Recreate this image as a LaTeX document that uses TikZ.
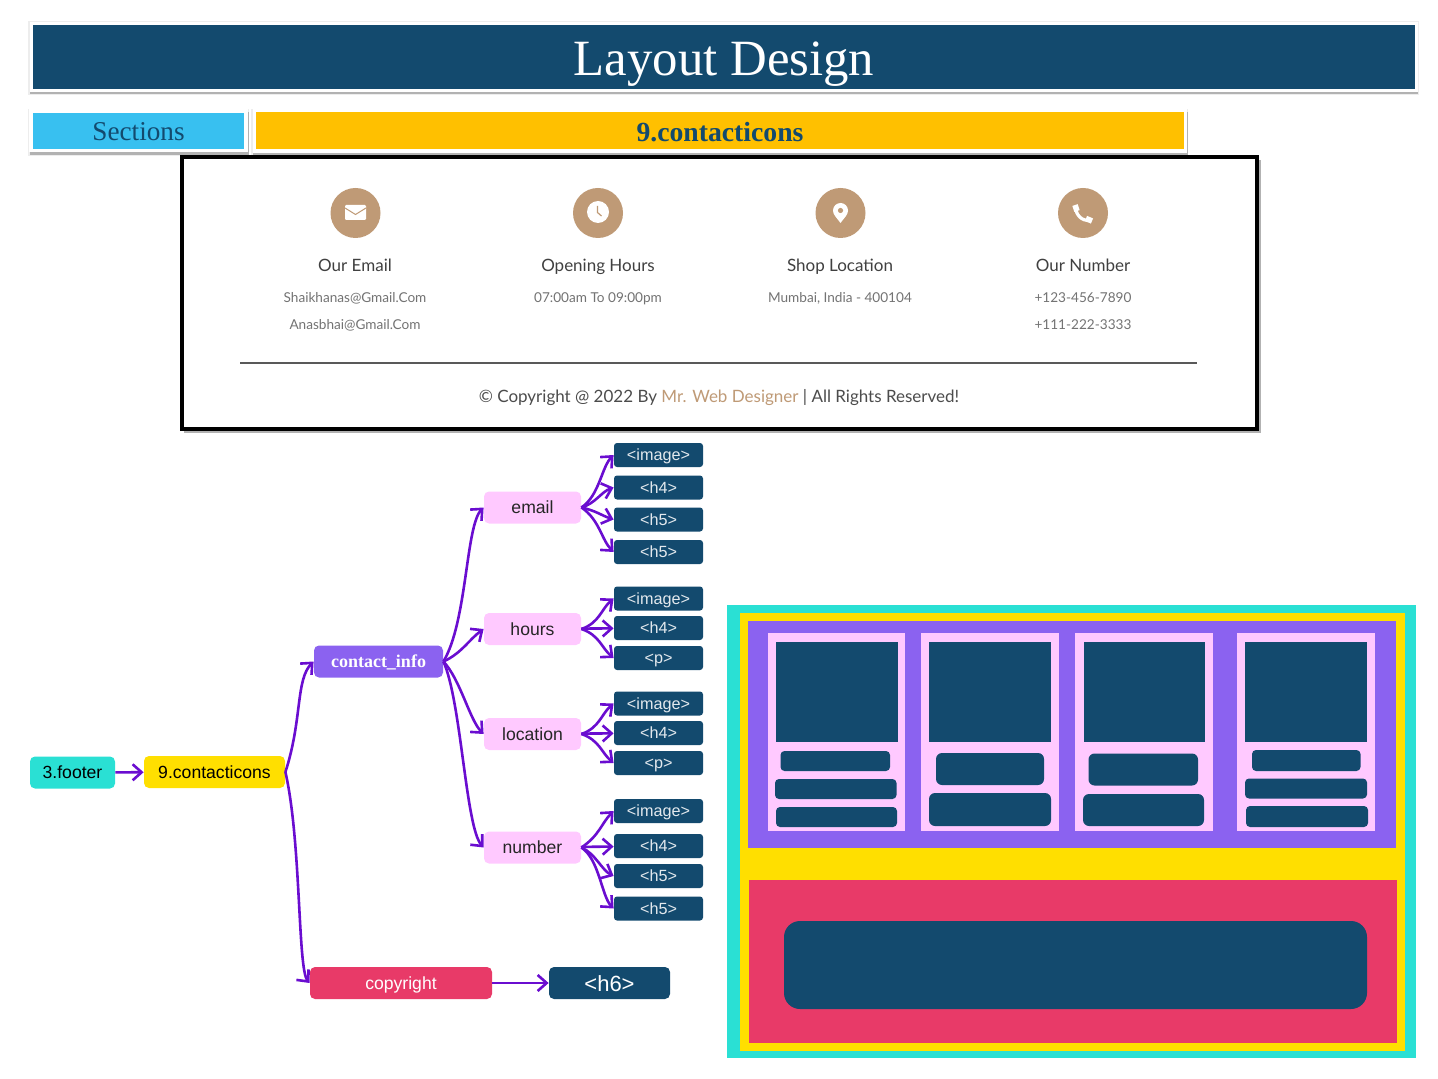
\documentclass[tikz,border=0pt]{standalone}
\usepackage{fontspec}
\usetikzlibrary{arrows.meta}
\setmainfont{Liberation Serif}
\newfontfamily\boxfont{Liberation Sans}
\newfontfamily\cardfont{Lato}

\definecolor{navy}{HTML}{134A6E}
\definecolor{skyblue}{HTML}{38C0F0}
\definecolor{amber}{HTML}{FFC000}
\definecolor{teal}{HTML}{2AE0D4}
\definecolor{sun}{HTML}{FFDF00}
\definecolor{violet}{HTML}{8B62F0}
\definecolor{rosered}{HTML}{E83A68}
\definecolor{pinkish}{HTML}{FFC9FF}
\definecolor{tan}{HTML}{BF9A76}
\definecolor{flowline}{HTML}{6A0DD0}

\tikzset{
    banner/.style={draw=white, line width=1.75pt, inner sep=0pt, text depth=0pt},
    softshadow/.style={fill=black!7},
    hardshadow/.style={fill=black!30},
    flowbox/.style={rounded corners=2.5pt, inner sep=0pt, minimum height=16pt, text height=6.3pt, text depth=0pt,
        font=\boxfont\fontsize{8.8}{10}\selectfont},
    pinkbox/.style={flowbox, fill=pinkish, text=black!85, minimum width=48.5pt},
    tagbox/.style={rounded corners=1.5pt, inner sep=0pt, fill=navy, text=white!88!navy,
        minimum width=44.5pt, minimum height=12pt, text height=5.6pt, text depth=0pt,
        font=\boxfont\fontsize{8.1}{10}\selectfont},
    cardtitle/.style={inner sep=0pt, text=black!75, text height=6.4pt, text depth=0pt,
        font=\cardfont\fontsize{8.5}{10}\selectfont},
    cardtext/.style={inner sep=0pt, text=black!55, text height=5.7pt, text depth=0pt,
        font=\cardfont\fontsize{6.8}{10}\selectfont},
    icon/.style={circle, fill=tan, minimum size=25pt, inner sep=0pt},
    flow/.style={draw=flowline, line width=1.3pt, -{Straight Barb[length=4.5pt,width=8pt]}}
}

\begin{document}
\begin{tikzpicture}[x=0.5pt, y=-0.5pt]
    \useasboundingbox (0, 0) rectangle (1438, 1079);

    % shadows under the banners and the screenshot
    \fill[softshadow] (28, 21) rectangle (1419, 95);
    \fill[hardshadow] (30, 24) rectangle (1418, 94);
    \fill[softshadow] (28, 109) rectangle (249, 156);
    \fill[hardshadow] (30, 112) rectangle (249, 155);
    \fill[softshadow] (251, 109) rectangle (1188, 156);
    \fill[hardshadow] (253, 112) rectangle (1188, 155);
    \fill[hardshadow] (184, 160) rectangle (1261, 433);

    % header
    \node[banner, fill=navy, text=white, minimum width=692.5pt, minimum height=33.5pt, text height=19pt,
        font=\fontsize{25.4}{28}\selectfont] (title) at (724, 57) {Layout Design};
    \node[banner, fill=skyblue, text=navy, minimum width=107.5pt, minimum height=19.75pt, text height=10pt,
        font=\fontsize{13.6}{15}\selectfont] (sections) at (138.5, 131) {Sections};
    \node[banner, fill=amber, text=navy, minimum width=465.5pt, minimum height=20.25pt, text height=10.5pt,
        font=\bfseries\fontsize{13.85}{15}\selectfont] (sectionname) at (720, 131) {9.contacticons};

    % screenshot
    \node[draw=black, fill=white, line width=2.2pt, inner sep=0pt, minimum width=537.5pt, minimum height=136pt] (shot) at (719.5, 293) {};

    \node[icon] (mailicon) at (355.5, 213) {};
    \node[icon] (clockicon) at (598, 213) {};
    \node[icon] (pinicon) at (840.5, 213) {};
    \node[icon] (phoneicon) at (1083, 213) {};

    \fill[white, rounded corners=0.6pt] (345, 205) rectangle (366, 220);
    \draw[tan, line width=0.5pt] (345, 208) -- (355.5, 214.5) -- (366, 208);
    \fill[white] (598, 212) circle (11);
    \draw[tan, line width=0.6pt] (597.5, 206) -- (597.5, 212.5) -- (601.5, 216);
    \fill[white] (840.5, 223) .. controls (836, 217) and (833, 214.5) .. (833, 210.5)
        arc (180:360:7.5) .. controls (848, 214.5) and (845, 217) .. (840.5, 223);
    \fill[tan] (840.5, 210.5) circle (2.6);
    \draw[white, line width=1.6pt] (1076, 207) .. controls (1075, 214) and (1082, 222) .. (1090, 220);
    \draw[white, line width=2.8pt] (1075, 205) -- (1077, 211);
    \draw[white, line width=2.8pt] (1086, 218.5) -- (1092, 221);

    \node[cardtitle] (mailhead) at (355, 265) {Our Email};
    \node[cardtitle] (clockhead) at (598, 265) {Opening Hours};
    \node[cardtitle] (pinhead) at (840, 265) {Shop Location};
    \node[cardtitle] (phonehead) at (1083, 265) {Our Number};

    \node[cardtext] (mailone) at (355, 297) {Shaikhanas@Gmail.Com};
    \node[cardtext] (mailtwo) at (355, 324) {Anasbhai@Gmail.Com};
    \node[cardtext] (clockone) at (598, 297) {07:00am To 09:00pm};
    \node[cardtext] (pinone) at (840, 297) {Mumbai, India - 400104};
    \node[cardtext] (phoneone) at (1083, 297) {+123-456-7890};
    \node[cardtext] (phonetwo) at (1083, 324) {+111-222-3333};

    \coordinate (ruleleft) at (240, 363);
    \coordinate (ruleright) at (1197, 363);
    \draw[black!65, line width=0.6pt] (ruleleft) -- (ruleright);
    \node[inner sep=0pt, text=black!70, text height=7pt, text depth=0pt, font=\cardfont\fontsize{8.5}{10}\selectfont] (notice) at (719, 396)
        {© Copyright @ 2022 By \textcolor{tan}{Mr. Web Designer} | All Rights Reserved!};

    % tree
    \node[flowbox, fill=teal, text=black, minimum width=42.5pt] (footer) at (72.5, 772.5) {3.footer};
    \node[flowbox, fill=sun, text=black, minimum width=70.5pt] (contacticons) at (214.5, 772) {9.contacticons};
    \node[flowbox, fill=violet, text=white, minimum width=64.5pt, font=\bfseries\fontsize{9}{10}\selectfont] (info) at (378.5, 661.5) {contact\_info};
    \node[flowbox, fill=rosered, text=white, minimum width=91pt] (copyright) at (401, 983) {copyright};
    \node[flowbox, fill=navy, text=white, minimum width=60.5pt, text height=8pt, font=\boxfont\fontsize{11}{12}\selectfont] (hsix) at (609.5, 983) {<h6>};

    \node[pinkbox] (email) at (532.5, 507.5) {email};
    \node[pinkbox] (hours) at (532.5, 629) {hours};
    \node[pinkbox] (location) at (532.5, 734) {location};
    \node[pinkbox] (number) at (532.5, 847.5) {number};

    \node[tagbox] (emailimage) at (658.5, 455) {<image>};
    \node[tagbox] (emailhfour) at (658.5, 487.5) {<h4>};
    \node[tagbox] (emailhfive) at (658.5, 519.5) {<h5>};
    \node[tagbox] (emailhfivetwo) at (658.5, 552) {<h5>};

    \node[tagbox] (hoursimage) at (658.5, 598.5) {<image>};
    \node[tagbox] (hourshfour) at (658.5, 628) {<h4>};
    \node[tagbox] (hoursp) at (658.5, 658) {<p>};

    \node[tagbox] (locationimage) at (658.5, 703.5) {<image>};
    \node[tagbox] (locationhfour) at (658.5, 733) {<h4>};
    \node[tagbox] (locationp) at (658.5, 763) {<p>};

    \node[tagbox] (numberimage) at (658.5, 811) {<image>};
    \node[tagbox] (numberhfour) at (658.5, 846) {<h4>};
    \node[tagbox] (numberhfive) at (658.5, 876) {<h5>};
    \node[tagbox] (numberhfivetwo) at (658.5, 908.5) {<h5>};

    \draw[flow] (footer) -- (contacticons);
    \draw[flow] (contacticons.east) .. controls +(17, -52) and +(-18, 18) .. (info.west);
    \draw[flow] (contacticons.east) .. controls +(16, 70) and +(-12, -14) .. (copyright.west);
    \draw[flow] (copyright) -- (hsix);

    \draw[flow] (info.east) .. controls +(24, -40) and +(-18, 18) .. (email.west);
    \draw[flow] (info.east) .. controls +(18, -8) and +(-14, 10) .. (hours.west);
    \draw[flow] (info.east) .. controls +(17, 18) and +(-14, -14) .. (location.west);
    \draw[flow] (info.east) .. controls +(18, 40) and +(-18, -20) .. (number.west);

    \draw[flow] (email.east) .. controls +(18, -12) and +(-12, 12) .. (emailimage.west);
    \draw[flow] (email.east) .. controls +(14, -4) and +(-12, 4) .. (emailhfour.west);
    \draw[flow] (email.east) .. controls +(14, 3) and +(-12, -4) .. (emailhfive.west);
    \draw[flow] (email.east) .. controls +(18, 12) and +(-12, -12) .. (emailhfivetwo.west);

    \draw[flow] (hours.east) .. controls +(18, -6) and +(-12, 10) .. (hoursimage.west);
    \draw[flow] (hours) -- (hourshfour);
    \draw[flow] (hours.east) .. controls +(18, 6) and +(-12, -10) .. (hoursp.west);

    \draw[flow] (location.east) .. controls +(18, -6) and +(-12, 10) .. (locationimage.west);
    \draw[flow] (location) -- (locationhfour);
    \draw[flow] (location.east) .. controls +(18, 6) and +(-12, -10) .. (locationp.west);

    \draw[flow] (number.east) .. controls +(18, -12) and +(-12, 12) .. (numberimage.west);
    \draw[flow] (number) -- (numberhfour);
    \draw[flow] (number.east) .. controls +(14, 6) and +(-12, -6) .. (numberhfive.west);
    \draw[flow] (number.east) .. controls +(18, 12) and +(-12, -12) .. (numberhfivetwo.west);

    % layout panel
    \fill[teal] (727, 605) rectangle (1416, 1058);
    \fill[sun] (740, 613) rectangle (1405, 1051);
    \fill[violet] (748, 621) rectangle (1396, 848);
    \fill[rosered] (749, 880) rectangle (1397, 1043);
    \fill[navy, rounded corners=8pt] (784, 921) rectangle (1367, 1009);

    \fill[pinkish] (768, 633) rectangle (905, 831);
    \fill[pinkish] (921, 633) rectangle (1059, 831);
    \fill[pinkish] (1075, 633) rectangle (1213, 831);
    \fill[pinkish] (1237, 633) rectangle (1375, 831);

    \fill[navy] (776, 641.5) rectangle (897.5, 742);
    \fill[navy] (929, 641.5) rectangle (1051, 742);
    \fill[navy] (1083.5, 641.5) rectangle (1205, 742);
    \fill[navy] (1245, 641.5) rectangle (1367, 742);

    \fill[navy, rounded corners=2pt] (780.5, 751) rectangle (890, 771);
    \fill[navy, rounded corners=2pt] (775, 779) rectangle (896.5, 799);
    \fill[navy, rounded corners=2pt] (776, 807) rectangle (897, 827);

    \fill[navy, rounded corners=3pt] (936, 753) rectangle (1044, 785);
    \fill[navy, rounded corners=3pt] (929, 793) rectangle (1051, 826);

    \fill[navy, rounded corners=3pt] (1088.5, 753.5) rectangle (1198, 785.5);
    \fill[navy, rounded corners=3pt] (1083, 794) rectangle (1204, 826);

    \fill[navy, rounded corners=2pt] (1252, 750) rectangle (1360.5, 771);
    \fill[navy, rounded corners=2pt] (1245, 778.5) rectangle (1367, 798.5);
    \fill[navy, rounded corners=2pt] (1246, 806) rectangle (1368, 827);

\end{tikzpicture}
\end{document}
